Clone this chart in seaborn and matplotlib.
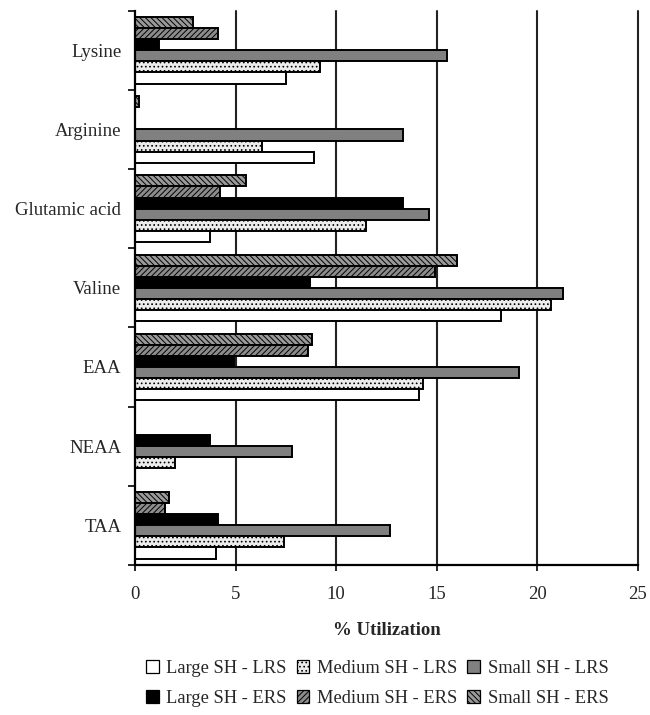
import matplotlib
matplotlib.use("Agg")
import matplotlib.pyplot as plt
import numpy as np
import pandas as pd
import seaborn as sns
from matplotlib.patches import Patch

categories = ["Lysine", "Arginine", "Glutamic acid", "Valine", "EAA", "NEAA", "TAA"]

large_lrs = [7.5, 8.9, 3.7, 18.2, 14.1, 0.0, 4.0]
medium_lrs = [9.2, 6.3, 11.5, 20.7, 14.3, 2.0, 7.4]
small_lrs = [15.5, 13.3, 14.6, 21.3, 19.1, 7.8, 12.7]
large_ers = [1.2, 0.0, 13.3, 8.7, 4.9, 3.7, 4.1]
medium_ers = [4.1, 0.0, 4.2, 14.9, 8.6, 0.0, 1.5]
small_ers = [2.9, 0.2, 5.5, 16.0, 8.8, 0.0, 1.7]

series = {
    "Large SH - LRS": large_lrs,
    "Medium SH - LRS": medium_lrs,
    "Small SH - LRS": small_lrs,
    "Large SH - ERS": large_ers,
    "Medium SH - ERS": medium_ers,
    "Small SH - ERS": small_ers,
}

# drawing order inside a group: top bar first
hue_order = ["Small SH - ERS", "Medium SH - ERS", "Large SH - ERS",
             "Small SH - LRS", "Medium SH - LRS", "Large SH - LRS"]

styles = {
    "Large SH - LRS": ("white", ""),
    "Medium SH - LRS": ("#ececec", "...."),
    "Small SH - LRS": ("#808080", ""),
    "Large SH - ERS": ("black", ""),
    "Medium SH - ERS": ("#8c8c8c", "//////"),
    "Small SH - ERS": ("#9a9a9a", "\\\\\\\\\\\\"),
}

rows = []
for name, vals in series.items():
    for cat, v in zip(categories, vals):
        rows.append({"category": cat, "series": name, "value": v})
df = pd.DataFrame(rows)

sns.set_style("white")
plt.rcParams["font.family"] = ["Liberation Serif", "DejaVu Serif"]
plt.rcParams["hatch.linewidth"] = 0.7

fig = plt.figure(figsize=(6.5, 7.15), dpi=100)
ax = fig.add_axes([0.208, 0.21, 0.773, 0.775])

sns.barplot(data=df, y="category", x="value", hue="series", hue_order=hue_order,
            order=categories, orient="h", width=0.84, gap=0, ax=ax,
            edgecolor="black", linewidth=1.4, legend=False)

for name, cont in zip(hue_order, ax.containers):
    fc, hatch = styles[name]
    for bar in cont:
        bar.set_facecolor(fc)
        bar.set_hatch(hatch)
        bar.set_edgecolor("black")

ax.set_xlim(0, 25)
ax.set_ylim(len(categories) - 0.5, -0.5)
ax.set_xticks([0, 5, 10, 15, 20, 25])
for x in [5, 10, 15, 20, 25]:
    ax.axvline(x, color="#222222", lw=1.5, zorder=0, clip_on=False)

ax.set_yticks(np.arange(len(categories)))
ax.set_yticklabels(categories)
ax.set_yticks(np.arange(len(categories) + 1) - 0.5, minor=True)
ax.tick_params(axis="y", which="major", length=0, pad=10, labelsize=13.5)
ax.tick_params(axis="y", which="minor", length=5, width=1.4, direction="out", left=True)
ax.tick_params(axis="x", length=8, width=1.4, direction="inout", pad=11, labelsize=13.5,
               bottom=True)

for s in ["top", "right"]:
    ax.spines[s].set_visible(False)
for s in ["left", "bottom"]:
    ax.spines[s].set_color("black")
    ax.spines[s].set_linewidth(1.6)

ax.set_ylabel("")
ax.set_xlabel("% Utilization", fontsize=13.5, fontweight="bold", labelpad=14)

legend_order = ["Large SH - LRS", "Large SH - ERS", "Medium SH - LRS",
                "Medium SH - ERS", "Small SH - LRS", "Small SH - ERS"]
handles = [Patch(facecolor=styles[n][0], hatch=styles[n][1], edgecolor="black",
                 linewidth=0.9, label=n) for n in legend_order]
fig.legend(handles=handles, ncol=3, loc="upper center", bbox_to_anchor=(0.58, 0.1),
           frameon=False, fontsize=13.3, handlelength=0.7, handleheight=0.7,
           handletextpad=0.4, columnspacing=0.55, labelspacing=0.7)

fig.savefig("out.png", dpi=100)
